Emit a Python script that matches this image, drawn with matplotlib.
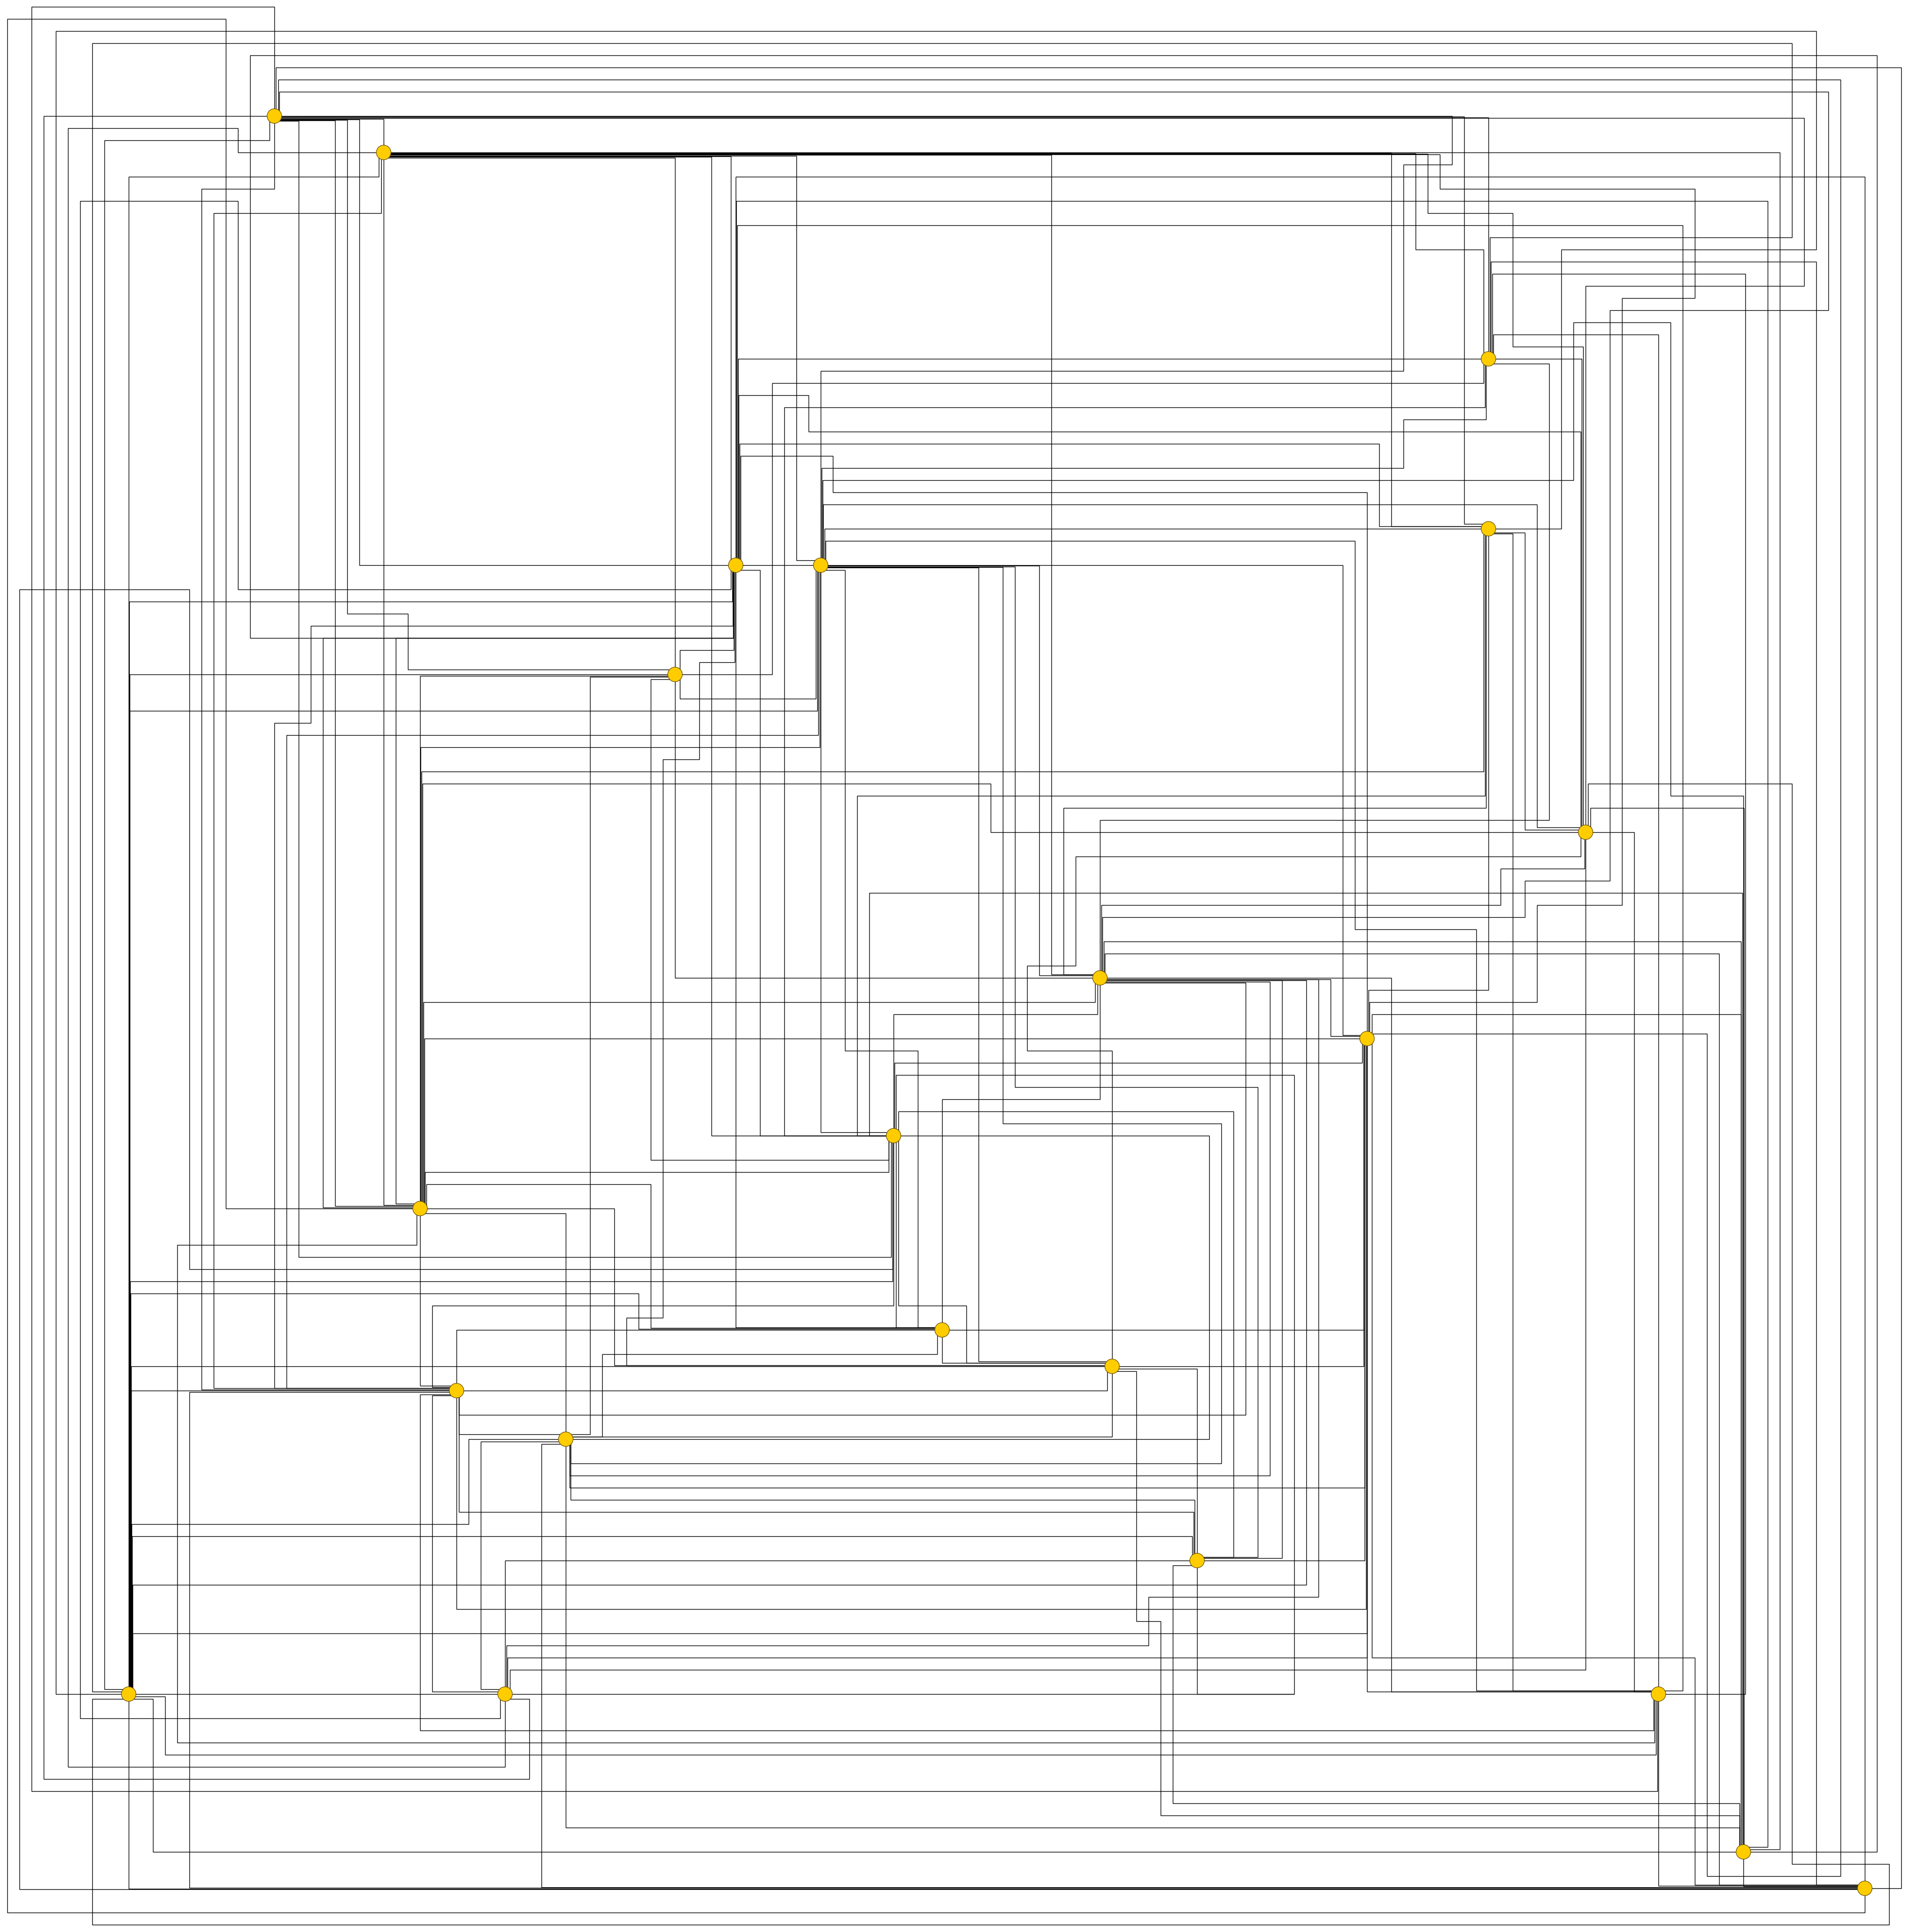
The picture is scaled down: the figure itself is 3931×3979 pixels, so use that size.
import matplotlib
matplotlib.use("Agg")
import matplotlib.pyplot as plt
from matplotlib.patches import Circle
from matplotlib.collections import LineCollection

# ---------------- data (grid units: pixel = 15 + 25 * unit) ----------------
node_col = [22, 31, 122, 122, 60, 67, 55, 130, 90, 112, 73, 34, 77, 91, 37, 46, 98, 10, 41, 136, 143, 153]
node_row = [9, 12, 29, 43, 46, 46, 55, 68, 80, 85, 93, 99, 109, 112, 114, 118, 128, 139, 139, 139, 152, 155]

edge_routes = [
    [(22,9),(22,0),(2,0),(2,147),(135.9,147),(135.9,139)],
    [(22.1,9),(22.1,5),(156,5),(156,155),(153,155)],
    [(22.3,9),(22.3,6),(151,6),(151,154),(140,154),(140,84.6),(112,84.6)],
    [(22.4,9),(22.4,7),(150,7),(150,25),(132,25),(132,72),(125,72),(125,75),(90.2,75),(90.2,80)],
    [(22,9),(3,9),(3,146),(43,146),(43,139.4),(41,139.4)],
    [(21.6,9),(21.6,11),(8,11),(8,138.6),(10,138.6)],
    [(22,9),(22,15),(16,15),(16,113.9),(37,113.9)],
    [(22,9.24),(31,9.24),(31,12)],
    [(22,9.4),(24,9.4),(24,103),(72.8,103),(72.8,93)],
    [(22,9.34),(27,9.34),(27,98.8),(34,98.8)],
    [(22,9.3),(28,9.3),(28,50),(33,50),(33,54.6),(55,54.6)],
    [(22,9.27),(29,9.27),(29,46),(60,46)],
    [(22,9.0),(119,9.0),(119,13),(115,13),(115,30),(67,30),(67,46)],
    [(22,9.05),(120,9.05),(120,42.6),(122,42.6)],
    [(22,9.1),(122,9.1),(122,29)],
    [(22,9.15),(148,9.15),(148,23),(130,23),(130,68)],
    [(30.6,12),(30.6,14),(10,14),(10,139)],
    [(30.8,12),(30.8,17),(17,17),(17,113.8),(37,113.8)],
    [(31,12),(31,98.7),(34,98.7)],
    [(31,12),(19,12),(19,10),(5,10),(5,145),(41,145),(41,139)],
    [(31,12.42),(55,12.42),(55,55)],
    [(31,12.37),(58,12.37),(58,93),(73,93)],
    [(31,12.32),(59.6,12.32),(59.6,46)],
    [(31,12.26),(65,12.26),(65,45.6),(67,45.6)],
    [(31,12.21),(86,12.21),(86,79.7),(90,79.7)],
    [(31,12.04),(114,12.04),(114,42.8),(122,42.8)],
    [(31,12.08),(116,12.08),(116,20),(121.6,20),(121.6,29)],
    [(31,12.12),(117,12.12),(117,17),(124,17),(124,28),(129.8,28),(129.8,68)],
    [(31,12.16),(118,12.16),(118,15),(139,15),(139,24),(133,24),(133,74),(126,74),(126,82),(112.2,82),(112.2,85)],
    [(31,12.0),(146,12.0),(146,151.8),(143,151.8)],
    [(60,46),(60,14),(153,14),(153,155)],
    [(60.05,46),(60.05,16),(145,16),(145,151.6),(143,151.6)],
    [(60.1,46),(60.1,18),(138,18),(138,138.7),(136,138.7)],
    [(60.2,46),(60.2,29),(122,29)],
    [(60.25,46),(60.25,32),(66,32),(66,35),(129.6,35),(129.6,68)],
    [(60.3,46),(60.3,36),(113,36),(113,42.8),(122,42.8)],
    [(60.4,46),(60.4,37),(68,37),(68,40),(112,40),(112,85)],
    [(59.6,46),(59.6,48),(19,48),(19,16),(6,16),(6,141),(40.6,141),(40.6,139)],
    [(59.7,46),(59.7,49),(10.03,49),(10.03,139)],
    [(59.75,46),(59.75,51),(25,51),(25,59),(22,59),(22,113.8),(37,113.8)],
    [(59.8,46),(59.8,52),(20,52),(20,4),(154,4),(154,152),(143,152)],
    [(59.8,46),(59.8,52),(26,52),(26,98.9),(34,98.9)],
    [(59.8,46),(59.8,52),(32,52),(32,98.6),(34,98.6)],
    [(59.85,46),(59.85,53),(55.4,53),(55.4,55)],
    [(59.9,46),(59.9,54),(57,54),(57,62),(54,62),(54,108),(51,108),(51,111.9),(91,111.9)],
    [(60,46),(60,108.8),(77,108.8)],
    [(60,46.4),(62,46.4),(62,93),(73,93)],
    [(60,46),(67,46)],
    [(67.1,46),(67.1,38),(115,38),(115,34),(121.8,34),(121.8,29)],
    [(67.15,46),(67.15,39),(129,39),(129,26),(137,26),(137,65),(143,65),(143,152)],
    [(67.2,46),(67.2,41),(126,41),(126,67.6),(130,67.6)],
    [(67.3,46),(67.3,43),(122,43)],
    [(67.4,46),(67.4,44),(111,44),(111,76),(121,76),(121,138.7),(136,138.7)],
    [(66.6,46),(66.6,57),(55.4,57),(55.4,55)],
    [(66.7,46),(66.7,58),(10.09,58),(10.09,139)],
    [(66.8,46),(66.8,60),(23,60),(23,113.8),(37,113.8)],
    [(66.9,46),(66.9,61),(34.05,61),(34.05,99)],
    [(67,46),(67,92.7),(73,92.7)],
    [(67,46.4),(69,46.4),(69,86),(75,86),(75,108.8),(77,108.8)],
    [(67,46.2),(80,46.2),(80,111.6),(91,111.6)],
    [(67,46.15),(82,46.15),(82,92),(100,92),(100,120),(46.4,120),(46.4,118)],
    [(67,46.1),(83,46.1),(83,89),(103,89),(103,127.7),(98,127.7)],
    [(67,46.05),(85,46.05),(85,79.8),(90,79.8)],
    [(67,46),(110,46),(110,84.7),(112,84.7)],
    [(55,55),(10.06,55),(10.06,139)],
    [(55,55),(63,55),(63,31),(121.6,31),(121.6,29)],
    [(55,55),(55,80),(90,80)],
    [(55.4,55.4),(53,55.4),(53,95),(72.6,95),(72.6,93)],
    [(55,55.1),(34,55.1),(34,99)],
    [(55,55.2),(48,55.2),(48,117.6),(37.2,117.6),(37.2,114)],
    [(34,99),(18,99),(18,1),(0,1),(0,157),(153,157),(153,155)],
    [(34.1,99),(34.1,63),(121.6,63),(121.6,43)],
    [(34.2,99),(34.2,64),(81,64),(81,68),(130,68)],
    [(34.3,99),(34.3,82),(89.6,82),(89.6,80)],
    [(34.35,99),(34.35,85),(112,85)],
    [(34.4,99),(34.4,96),(72.6,96),(72.6,93)],
    [(34.5,99),(34.5,97),(53,97),(53,108.85),(77,108.85)],
    [(34,99.4),(46,99.4),(46,118)],
    [(34,99),(50,99),(50,111.9),(91,111.9)],
    [(34,99),(34,113.6),(37,113.6)],
    [(33.7,99),(33.7,102),(14,102),(14,143),(135.7,143),(135.7,139)],
    [(90,79.7),(87,79.7),(87,66),(121.8,66),(121.8,43)],
    [(90,80),(90,67),(127,67),(127,29.4),(122,29.4)],
    [(90.1,80),(90.1,74),(123,74),(123,71),(129.9,71),(129.9,68)],
    [(90.3,80),(90.3,77),(142.8,77),(142.8,152)],
    [(90.4,80),(90.4,78),(141,78),(141,154.7),(153,154.7)],
    [(90,80),(114,80),(114,138.8),(136,138.8)],
    [(90,80.3),(104,80.3),(104,121),(46.3,121),(46.3,118)],
    [(90,80.2),(105,80.2),(105,127.8),(98,127.8)],
    [(90,80.2),(107,80.2),(107,130),(10.3,130),(10.3,139)],
    [(90,80.1),(108,80.1),(108,131),(94,131),(94,135),(41.1,135),(41.1,139)],
    [(90,80.1),(109,80.1),(109,84.8),(112,84.8)],
    [(90,80.4),(102,80.4),(102,116),(37.2,116),(37.2,114)],
    [(90,80),(90,90),(77,90),(77,109)],
    [(89.8,80),(89.8,83),(73,83),(73,93)],
    [(129.6,68),(129.6,70),(88,70),(88,79),(84,79),(84,86),(91,86),(91,112)],
    [(73,93),(70,93),(70,65),(121.7,65),(121.7,43)],
    [(73,93),(71,93),(71,73),(142.9,73),(142.9,152)],
    [(73.1,93),(73.1,87),(111.6,87),(111.6,85)],
    [(73.4,93),(73.4,91),(101,91),(101,127.7),(98,127.7)],
    [(73,93),(99,93),(99,118),(46,118)],
    [(73,93),(64,93),(64,33),(121.7,33),(121.7,29)],
    [(73.2,93),(73.2,108.8),(77,108.8)],
    [(73.4,93),(73.4,107),(79,107),(79,111.7),(91,111.7)],
    [(73,93),(73,107),(35,107),(35,113.7),(37,113.7)],
    [(72.9,93),(72.9,105),(10.12,105),(10.12,139)],
    [(72.9,93),(72.9,104),(15,104),(15,48),(1,48),(1,155.08),(153,155.08)],
    [(73.2,93),(73.2,88),(106,88),(106,139),(41,139)],
    [(130,68),(134,68),(134,138.8),(136,138.8)],
    [(130,68),(130,137),(41.4,137),(41.4,139)],
    [(130.2,68),(130.2,64),(147,64),(147,153),(155,153),(155,158),(7,158),(7,139.4),(10,139.4)],
    [(130.4,68),(130.4,66),(143.05,66),(143.05,152)],
    [(130,67.8),(125,67.8),(125,43.3),(122,43.3)],
    [(122,43.4),(124,43.4),(124,138.7),(136,138.7)],
    [(122,43),(122,81),(112.1,81),(112.1,85)],
    [(122,43),(128,43),(128,20),(149,20),(149,2),(4,2),(4,139),(10,139)],
    [(122.1,29),(122.1,19),(147,19),(147,3),(7,3),(7,138.8),(10,138.8)],
    [(122.2,29),(122.2,21),(149,21),(149,154.7),(153,154.7)],
    [(122.3,29),(122.3,22),(143.15,22),(143.15,139),(136,139)],
    [(122.4,29),(122.4,27),(136,27),(136,139)],
    [(122,29),(129.7,29),(129.7,68)],
    [(112.4,85),(112.4,83),(142.8,83),(142.8,152)],
    [(112,85),(112,138.8),(136,138.8)],
    [(112.4,85),(112.4,136),(139,136),(139,154.7),(153,154.7)],
    [(111.7,85),(111.7,109),(77,109)],
    [(111.7,85),(111.7,112),(91,112)],
    [(111.8,85),(111.8,122),(46.3,122),(46.3,118)],
    [(111.8,85),(111.8,128),(98,128)],
    [(111.9,85),(111.9,132),(37,132),(37,114)],
    [(112,85),(112,134),(10.33,134),(10.33,139)],
    [(112,85),(112,136),(41.2,136),(41.2,139)],
    [(77,109),(77,111.7),(91,111.7)],
    [(77,109),(37,109),(37,114)],
    [(76.6,109),(76.6,111),(49,111),(49,117.8),(46,117.8)],
    [(77,108.9),(52,108.9),(52,106),(10.15,106),(10.15,139)],
    [(91,112),(10.18,112),(10.18,139)],
    [(90.6,112),(90.6,114),(37,114)],
    [(91,112),(91,117.8),(46,117.8)],
    [(91,112.2),(98,112.2),(98,128)],
    [(91,112.4),(93,112.4),(93,133),(95,133),(95,149),(142.7,149),(142.7,152)],
    [(37,114),(10.21,114),(10.21,139)],
    [(37,114.1),(15,114.1),(15,154.96),(153,154.96)],
    [(37,114.3),(34,114.3),(34,142),(135.6,142),(135.6,139)],
    [(37,114.4),(35,114.4),(35,138.8),(41,138.8)],
    [(37.2,114),(37.2,124),(97.7,124),(97.7,128)],
    [(46,118),(38,118),(38,125),(10.24,125),(10.24,139)],
    [(46,118.2),(39,118.2),(39,138.6),(41,138.6)],
    [(46,118.4),(44,118.4),(44,154.92),(153,154.92)],
    [(46,118),(46,150),(142.7,150),(142.7,152)],
    [(46.4,118),(46.4,123),(97.8,123),(97.8,128)],
    [(97.6,128),(97.6,126),(10.27,126),(10.27,139)],
    [(98,128),(41,128),(41,139)],
    [(98,128.4),(96,128.4),(96,148),(142.7,148),(142.7,152)],
    [(10,139),(41,139)],
    [(10,139),(10,155.02),(153,155.02)],
    [(10,139.2),(13,139.2),(13,144),(135.8,144),(135.8,139)],
    [(10,139.4),(12,139.4),(12,152),(143,152)],
    [(98,128),(98,139),(106,139)],
    [(136,139),(136,154.8),(153,154.8)],
    [(143,152),(143,154.85),(153,154.85)],
]

# ---------------- drawing ----------------
W, H = 3931, 3980
GRID, ORIGIN = 25.0, 15.0
NODE_R = 15.0

def to_px(u):
    return ORIGIN + GRID * u

fig = plt.figure(figsize=(W / 100, H / 100), dpi=100)
ax = fig.add_axes([0, 0, 1, 1])
ax.set_xlim(0, W)
ax.set_ylim(H, 0)
ax.set_aspect("equal")
ax.axis("off")

segs = [[(to_px(c), to_px(r)) for c, r in route] for route in edge_routes]
ax.add_collection(LineCollection(segs, colors="black", linewidths=1.0,
                                 capstyle="butt", joinstyle="miter", zorder=1))

for c, r in zip(node_col, node_row):
    ax.add_patch(Circle((to_px(c), to_px(r)), NODE_R, facecolor="#FFCC00",
                        edgecolor="#6b5300", linewidth=0.9, zorder=3))

fig.savefig("out.png", dpi=100, facecolor="white")
